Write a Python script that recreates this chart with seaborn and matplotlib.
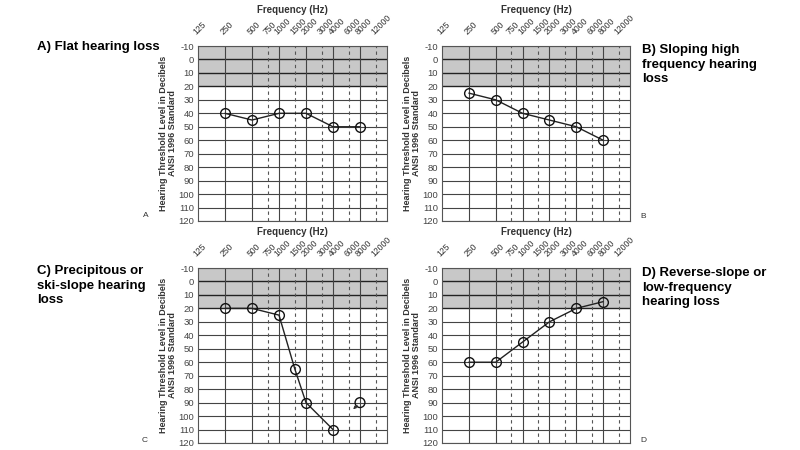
import matplotlib
matplotlib.use("Agg")
import matplotlib.pyplot as plt
from matplotlib.ticker import NullLocator, FixedLocator
from matplotlib import font_manager
import seaborn as sns
import pandas as pd

# ---------------- data ----------------
tick_freqs = [125, 250, 500, 750, 1000, 1500, 2000, 3000, 4000, 6000, 8000, 12000]
tick_labels = ["125", "250", "500", "750", "1000", "1500", "2000", "3000", "4000", "6000", "8000", "12000"]
solid_freqs = [250, 500, 1000, 2000, 4000, 8000]
dashed_freqs = [750, 1500, 3000, 6000, 12000]
db_ticks = [-10, 0, 10, 20, 30, 40, 50, 60, 70, 80, 90, 100, 110, 120]
db_tick_labels = ["-10", "0", "10", "20", "30", "40", "50", "60", "70", "80", "90", "100", "110", "120"]

freqs_A = [250, 500, 1000, 2000, 4000, 8000]
db_A = [40, 45, 40, 40, 50, 50]
freqs_B = [250, 500, 1000, 2000, 4000, 8000]
db_B = [25, 30, 40, 45, 50, 60]
freqs_C = [250, 500, 1000, 1500, 2000, 4000]
db_C = [20, 20, 25, 65, 90, 110]
freqs_C_noresp = [8000]
db_C_noresp = [90]
freqs_D = [250, 500, 1000, 2000, 4000, 8000]
db_D = [60, 60, 45, 30, 20, 15]

titles = ["A) Flat hearing loss",
          "B) Sloping high\nfrequency hearing\nloss",
          "C) Precipitous or\nski-slope hearing\nloss",
          "D) Reverse-slope or\nlow-frequency\nhearing loss"]
letters = ["A", "B", "C", "D"]

# ---------------- style ----------------
sns.set_theme(style="white")
names = {f.name for f in font_manager.fontManager.ttflist}
small_font = "Liberation Sans Narrow" if "Liberation Sans Narrow" in names else "Liberation Sans"
plt.rcParams["font.family"] = [small_font, "DejaVu Sans"]

W, H = 800, 450
fig = plt.figure(figsize=(8, 4.5), dpi=100)

def px_axes(x0, y0, x1, y1):
    return fig.add_axes([x0 / W, 1 - y1 / H, (x1 - x0) / W, (y1 - y0) / H])

axes_px = [(198, 46, 387, 221), (442, 46, 630, 221),
           (198, 268, 387, 443), (442, 268, 630, 443)]

panels = [
    (freqs_A, db_A, None, None),
    (freqs_B, db_B, None, None),
    (freqs_C, db_C, freqs_C_noresp, db_C_noresp),
    (freqs_D, db_D, None, None),
]

for i, (box, (fr, db, fr_iso, db_iso)) in enumerate(zip(axes_px, panels)):
    ax = px_axes(*box)
    ax.set_xscale("log", base=2)
    ax.set_xlim(125, 16000)
    ax.set_ylim(120, -10)
    ax.axhspan(-10, 20, color="#c8c8c8", zorder=0, lw=0)
    for d in db_ticks:
        if d in (0, 10, 20):
            ax.axhline(d, color="#222222", lw=1.0, zorder=1)
        else:
            ax.axhline(d, color="#444444", lw=0.8, zorder=1)
    for f in solid_freqs:
        ax.axvline(f, color="#444444", lw=0.8, zorder=1)
    for f in dashed_freqs:
        ax.axvline(f, color="#555555", lw=0.8, ls=(0, (3, 3)), zorder=1)

    df = pd.DataFrame({"freq": fr, "db": db})
    sns.lineplot(data=df, x="freq", y="db", ax=ax, color="#222222", lw=1.0,
                 marker="o", markersize=7, markerfacecolor="none",
                 markeredgecolor="#111111", markeredgewidth=1.0, zorder=3,
                 sort=False)
    if fr_iso is not None:
        dfi = pd.DataFrame({"freq": fr_iso, "db": db_iso})
        sns.scatterplot(data=dfi, x="freq", y="db", ax=ax, s=50, marker="o",
                        facecolor="none", edgecolor="#111111", linewidth=1.0, zorder=3)
        for f0, d0 in zip(fr_iso, db_iso):
            ax.annotate("", xy=(f0 * 0.84, d0 + 5), xytext=(f0 * 0.93, d0 + 2),
                        arrowprops=dict(arrowstyle="-|>", color="#333333", lw=0.8,
                                        mutation_scale=4, shrinkA=0, shrinkB=0),
                        zorder=4)

    ax.set_xlabel("")
    ax.set_ylabel("Hearing Threshold Level in Decibels\nANSI 1996 Standard",
                  fontsize=6.5, fontweight="bold", color="#333333", labelpad=1,
                  linespacing=1.0)
    ax.xaxis.tick_top()
    ax.xaxis.set_major_locator(FixedLocator(tick_freqs))
    ax.xaxis.set_minor_locator(NullLocator())
    ax.set_xticklabels(tick_labels, rotation=45, ha="left", va="bottom",
                       rotation_mode="anchor", fontsize=6.2, color="#333333")
    ax.set_yticks(db_ticks)
    ax.set_yticklabels(db_tick_labels, fontsize=6.8, color="#444444")
    ax.tick_params(axis="both", length=0)
    ax.tick_params(axis="x", pad=7)
    ax.tick_params(axis="y", pad=3)
    for s in ax.spines.values():
        s.set_visible(True)
        s.set_color("#555555")
        s.set_linewidth(0.8)

    cx = (box[0] + box[2]) / 2
    fig.text(cx / W, 1 - (box[1] - 36) / H, "Frequency (Hz)", ha="center", va="center",
             fontsize=7, fontweight="bold", color="#333333")

# panel titles
title_pos = [(37, 47, "center"), (642, 44, "top"), (37, 265, "top"), (642, 267, "top")]
for t, (x, y, va) in zip(titles, title_pos):
    fig.text(x / W, 1 - y / H, t, ha="left", va=va, fontsize=9.5,
             fontweight="bold", color="black", family=["Liberation Sans", "DejaVu Sans"],
             linespacing=1.28)

letter_pos = [(146, 215), (643, 217), (145, 440), (643, 440)]
for l, (x, y) in zip(letters, letter_pos):
    fig.text(x / W, 1 - y / H, l, ha="center", va="center", fontsize=6,
             color="#333333")

fig.savefig("out.png", dpi=100)
